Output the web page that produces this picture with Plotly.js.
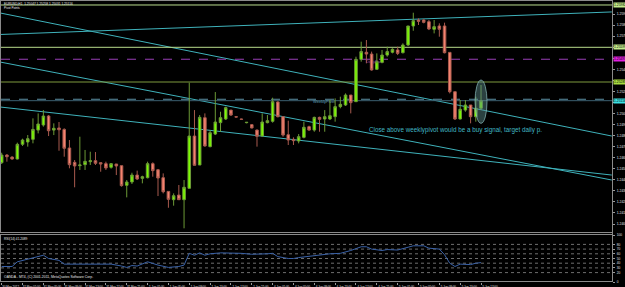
<!DOCTYPE html>
<html><head><meta charset="utf-8">
<script src="https://cdn.plot.ly/plotly-3.0.1.min.js"></script>
<style>html,body{margin:0;padding:0;background:#000;}#chart{width:625px;height:287px;}</style>
</head><body><div id="chart"></div>
<script>
// ---------- DATA ----------
const symbolTitle = "EURUSD,H1";
const barIndex = Array.from({length: 93}, (_, i) => i);
const open = [1.24555,1.24624,1.24606,1.24588,1.24721,1.24742,1.24766,1.24850,1.24896,1.24977,
1.24850,1.24869,1.24856,1.24688,1.24558,1.24528,1.24537,1.24564,1.24573,1.24555,
1.24546,1.24513,1.24543,1.24528,1.24350,1.24380,1.24443,1.24413,1.24419,1.24546,
1.24491,1.24419,1.24295,1.24220,1.24262,1.24220,1.24323,1.24796,1.24534,1.24962,
1.24700,1.24814,1.24917,1.24950,1.25031,1.24971,1.24950,1.24917,1.24899,1.24850,
1.24796,1.24917,1.24929,1.25104,1.24971,1.24808,1.24766,1.24751,1.24784,1.24881,
1.24850,1.24965,1.24950,1.24950,1.24971,1.25062,1.25077,1.25167,1.25107,1.25490,
1.25554,1.25538,1.25400,1.25463,1.25529,1.25554,1.25575,1.25550,1.25620,1.25792,
1.25846,1.25846,1.25831,1.25762,1.25792,1.25792,1.25553,1.25197,1.24950,1.25031,
1.25077,1.24971,1.25047];
const high = [1.24645,1.24633,1.24612,1.24736,1.24772,1.24805,1.24956,1.25001,1.25031,1.24986,
1.24911,1.24923,1.24866,1.24760,1.24579,1.24790,1.24670,1.24654,1.24651,1.24555,
1.24564,1.24552,1.24543,1.24528,1.24398,1.24464,1.24483,1.24437,1.24564,1.24558,
1.24498,1.24458,1.24295,1.24277,1.24353,1.24398,1.25279,1.25031,1.24986,1.25001,
1.24850,1.25194,1.25016,1.25062,1.25031,1.24975,1.24953,1.24920,1.24905,1.24856,
1.25001,1.24986,1.25143,1.25110,1.24977,1.24935,1.24784,1.24814,1.24926,1.24890,
1.24971,1.24971,1.25031,1.25122,1.25137,1.25152,1.25182,1.25167,1.25514,1.25650,
1.25665,1.25560,1.25544,1.25575,1.25605,1.25590,1.25605,1.25635,1.25792,1.25912,
1.25861,1.25852,1.25846,1.25846,1.25816,1.25822,1.25553,1.25197,1.25122,1.25122,
1.25077,1.25152,1.25258];
const low = [1.24543,1.24564,1.24582,1.24585,1.24706,1.24700,1.24730,1.24820,1.24881,1.24796,
1.24805,1.24663,1.24609,1.24504,1.24332,1.24489,1.24489,1.24534,1.24534,1.24473,
1.24489,1.24501,1.24443,1.24338,1.24241,1.24362,1.24398,1.24368,1.24413,1.24428,
1.24253,1.24277,1.24147,1.24166,1.24217,1.23961,1.24323,1.24531,1.24534,1.24700,
1.24694,1.24805,1.24835,1.24941,1.24977,1.24965,1.24944,1.24911,1.24866,1.24700,
1.24790,1.24911,1.24917,1.24965,1.24790,1.24715,1.24715,1.24730,1.24775,1.24844,
1.24835,1.24835,1.24835,1.24941,1.24926,1.25047,1.25068,1.25001,1.25107,1.25469,
1.25454,1.25388,1.25394,1.25454,1.25514,1.25544,1.25529,1.25544,1.25611,1.25749,
1.25801,1.25816,1.25755,1.25725,1.25695,1.25544,1.25182,1.24941,1.24947,1.25016,
1.24911,1.24926,1.25031];
const close = [1.24624,1.24609,1.24588,1.24721,1.24760,1.24772,1.24856,1.24905,1.24977,1.24844,
1.24866,1.24853,1.24685,1.24537,1.24525,1.24534,1.24567,1.24573,1.24549,1.24543,
1.24507,1.24546,1.24525,1.24347,1.24380,1.24443,1.24407,1.24428,1.24546,1.24483,
1.24416,1.24292,1.24223,1.24256,1.24220,1.24332,1.24796,1.24531,1.24965,1.24706,
1.24826,1.24923,1.24962,1.25053,1.24986,1.24968,1.24947,1.24920,1.24869,1.24793,
1.24923,1.24935,1.25107,1.24971,1.24805,1.24760,1.24754,1.24790,1.24875,1.24850,
1.24965,1.24947,1.24971,1.24980,1.25062,1.25083,1.25167,1.25098,1.25490,1.25560,
1.25538,1.25394,1.25469,1.25529,1.25560,1.25581,1.25544,1.25620,1.25792,1.25840,
1.25834,1.25825,1.25765,1.25786,1.25762,1.25550,1.25197,1.24950,1.25038,1.25077,
1.24971,1.25047,1.25116];

const timeTickBars = [0,4,8,12,16,20,24,28,32,36,40,44,48,52,56,60,64,68,72,76,80,84,88,92];
const timeTickLabels = ["30 May 2012","31 May 01:00","31 May 05:00","31 May 09:00","31 May 13:00",
"31 May 17:00","31 May 21:00","1 Jun 01:00","1 Jun 05:00","1 Jun 09:00","1 Jun 13:00","1 Jun 17:00",
"1 Jun 21:00","4 Jun 01:00","4 Jun 05:00","4 Jun 09:00","4 Jun 13:00","4 Jun 17:00","4 Jun 21:00",
"5 Jun 01:00","5 Jun 05:00","5 Jun 09:00","5 Jun 13:00","5 Jun 17:00"];
const priceTicks = [1.2400,1.2410,1.2420,1.2430,1.2440,1.2450,1.2460,1.2470,1.2480,1.2490,
1.2500,1.2510,1.2520,1.2530,1.2540,1.2550,1.2560,1.2570,1.2580,1.2590];

const rsiBar = [0,2,3,5,7,8,9,11,12,15,17,19,21,23,24,25,26,28,30,32,34,35,36,37,38,39,40,42,44,46,48,50,51,52,53,55,56,57,59,61,63,65,67,69,70,71,73,74,76,78,79,81,82,84,85,86,87,88,89,90,91,92];
const rsiValue = [33,33,43,48,54,57,50,46,38,38,38,38,38,34,31,35,34,43,36,31,33,36,61,57,62,57,60,62,62,61,59,59,60,61,54,50,50,52,55,57,60,61,67,75,75,70,67,69,68,74,77,77,72,70,58,40,33,38,38,37,40,41.2089];
const rsiLevels = [20,30,40,50,60,70,80];
const rsiTicks = [0,20,30,40,50,60,70,80,100];

// horizontal pivot levels
const levelNames = ["R2","R1","DailyPivot","S-level","WeeklyPivot"];
const levelPrices = [1.25982,1.25599,1.25491,1.25285,1.25129];
// trend lines: [bar, price] start and end
const trendBar0 = [-0.33,-0.33,-0.33,-0.33];
const trendPrice0 = [1.25910,1.25715,1.25059,1.25466];
const trendBar1 = [117.1,117.1,117.1,117.1];
const trendPrice1 = [1.24796,1.25919,1.24443,1.24398];
const noteText = "Close above weeklypivot would be a buy signal, target daily p.";

// ---------- STYLE / GEOMETRY ----------
const W = 625, H = 287;
const FONT = "Liberation Sans, Arial, sans-serif";
const fx = px => px / W, fy = py => 1 - py / H;
const BAR0 = 1.7, BARW = 5.21;             // px of bar 0, px per bar
const barAt = px => (px - BAR0) / BARW;
const PY0 = 224, PSTEP = 11.05;            // px of 1.2400 tick, px per 0.0010
const priceAt = py => 1.2400 + (PY0 - py) / PSTEP * 0.001;
const pxOf = p => PY0 - (p - 1.2400) / 0.001 * PSTEP;
const MAIN_TOP = 2, MAIN_BOT = 232, RSI_TOP = 235, RSI_BOT = 282, RIGHT = 612;
const yRange = [priceAt(MAIN_BOT), priceAt(MAIN_TOP)];
const xRange = [barAt(1), barAt(RIGHT)];
const levelColors = ["#b9dc8c","#b9dc8c","#9a3fb8","#7f9a3e","#5b8ea2"];
const levelDash = ["solid","solid","dash","solid","dash"];
const labelBg = ["#c4ec8c","#c4ec8c","#e020e0","#a8dc40"];
const trendColor = "#3fb2bb";
const fmt5 = v => v.toFixed(5);
const fmt4 = v => v.toFixed(4);
const last = close.length - 1;

// price-scale labels: hide those covered by the coloured level labels
const labelledPrices = levelPrices.slice(0, 4).concat([close[last]]);
const priceTickText = priceTicks.map(t =>
  labelledPrices.some(p => Math.abs(pxOf(p) - pxOf(t)) < 5) ? "" : fmt4(t));

const traces = [];
for (let i = 0; i < trendBar0.length; i++) {
  traces.push({type:'scatter', mode:'lines', x:[trendBar0[i], trendBar1[i]], y:[trendPrice0[i], trendPrice1[i]],
    xaxis:'x', yaxis:'y', line:{color:trendColor, width:1}, hoverinfo:'skip'});
}
levelPrices.forEach((p, i) => {
  traces.push({type:'scatter', mode:'lines', x:[xRange[0], xRange[1]], y:[p, p], xaxis:'x', yaxis:'y',
    line:{color:levelColors[i], width:1, dash:levelDash[i]}, hoverinfo:'skip'});
});
traces.push({type:'scatter', mode:'lines', x:[xRange[0], xRange[1]], y:[close[last], close[last]], xaxis:'x', yaxis:'y',
  line:{color:'#3b5f70', width:1}, hoverinfo:'skip'});
traces.push({type:'scatter', mode:'text', x:[barAt(313)], y:[levelPrices[4] - 0.00026], text:[levelNames[4]],
  textposition:'middle right', textfont:{family:FONT, size:4, color:'#5f9fb4'}, xaxis:'x', yaxis:'y', hoverinfo:'skip'});
traces.push({type:'scatter', mode:'text', x:[barAt(366)], y:[levelPrices[2] - 0.00025], text:[levelNames[2]],
  textposition:'middle right', textfont:{family:FONT, size:4, color:'#9a3fb8'}, xaxis:'x', yaxis:'y', hoverinfo:'skip'});
traces.push({type:'scatter', mode:'lines', x:rsiBar, y:rsiValue, xaxis:'x', yaxis:'y2',
  line:{color:'#3a62a8', width:1}, hoverinfo:'skip'});
traces.push({type:'candlestick', x:barIndex, open:open, high:high, low:low, close:close, xaxis:'x', yaxis:'y3',
  increasing:{line:{color:'#6c9a36', width:1}, fillcolor:'#7cfc00'},
  decreasing:{line:{color:'#a85a4e', width:1}, fillcolor:'#f5836f'},
  whiskerwidth:0, hoverinfo:'skip'});

const shapes = [];
const frame = (x0,y0,x1,y1,c) => shapes.push({type:'line', xref:'paper', yref:'paper', x0:fx(x0), y0:fy(y0), x1:fx(x1), y1:fy(y1), line:{color:c||'#8a8a8a', width:1}, layer:'above'});
frame(0, 0.5, RIGHT, 0.5);
frame(0.5, 0, 0.5, MAIN_BOT);
frame(0, MAIN_BOT + 0.5, RIGHT, MAIN_BOT + 0.5);
frame(0, RSI_TOP - 0.5, RIGHT, RSI_TOP - 0.5);
frame(0, RSI_BOT - 0.5, RIGHT, RSI_BOT - 0.5);
frame(RIGHT + 0.5, 0, RIGHT + 0.5, RSI_BOT);
frame(0.5, RSI_TOP, 0.5, RSI_BOT);
rsiLevels.forEach(v => shapes.push({type:'line', xref:'paper', yref:'y2', x0:fx(1), x1:fx(RIGHT), y0:v, y1:v,
  line:{color:'#6e6e6e', width:1, dash:'dot'}, layer:'below'}));
shapes.push({type:'circle', xref:'x', yref:'y', x0:last - 1.15, x1:last + 1.15,
  y0:low[last] - 0.0012, y1:high[last] + 0.00045,
  fillcolor:'rgba(95,145,145,0.45)', line:{color:'rgba(140,190,190,0.7)', width:1}, layer:'above'});

const annotations = [];
const txt = (px, py, text, size, color, extra) => annotations.push(Object.assign({xref:'paper', yref:'paper', x:fx(px), y:fy(py),
  text, showarrow:false, xanchor:'left', yanchor:'middle', font:{family:FONT, size, color}}, extra||{}));
txt(2, 3.5, symbolTitle + "  " + fmt5(open[last]) + " " + fmt5(high[last]) + " " + fmt5(low[last]) + " " + fmt5(close[last]), 3.2, '#e8e8e8');
txt(2, 7.8, "Pivot Points", 3.0, '#e8e8e8');
txt(2, 239, "RSI(14) " + rsiValue[rsiValue.length - 1].toFixed(4), 3.2, '#e8e8e8');
txt(2, 277, "OANDA - MT4, (C) 2001-2011, MetaQuotes Software Corp.", 3.4, '#e8e8e8');
txt(366.5, 129.5, noteText, 6.3, '#41b8c4');
levelPrices.slice(0, 4).forEach((p, i) => annotations.push({xref:'paper', yref:'y', x:fx(RIGHT + 1), y:p, text:fmt5(p),
  showarrow:false, xanchor:'left', yanchor:'middle', bgcolor:labelBg[i], borderpad:0,
  font:{family:FONT, size:3.4, color:'#000'}}));
annotations.push({xref:'paper', yref:'y', x:fx(RIGHT + 1), y:close[last], text:fmt5(close[last]),
  showarrow:false, xanchor:'left', yanchor:'middle', bgcolor:'#3ce0e4', borderpad:0,
  font:{family:FONT, size:3.4, color:'#000'}});

const layout = {
  width:W, height:H, paper_bgcolor:'#000', plot_bgcolor:'#000', showlegend:false,
  margin:{l:0, r:0, t:0, b:0},
  xaxis:{domain:[fx(1), fx(RIGHT)], range:xRange, anchor:'y2', rangeslider:{visible:false},
    tickmode:'array', tickvals:timeTickBars, ticktext:timeTickLabels, ticks:'outside', ticklen:2, tickcolor:'#9a9a9a',
    tickfont:{family:FONT, size:2.9, color:'#e0e0e0'}, ticklabelshift:9, ticklabelstandoff:0,
    showgrid:false, zeroline:false, showline:false, fixedrange:true},
  yaxis:{domain:[fy(MAIN_BOT), fy(MAIN_TOP)], range:yRange, side:'right', anchor:'x',
    tickmode:'array', tickvals:priceTicks, ticktext:priceTickText, ticks:'outside', ticklen:2, tickcolor:'#9a9a9a',
    tickfont:{family:FONT, size:3.4, color:'#e0e0e0'}, ticklabelstandoff:1,
    showgrid:false, zeroline:false, showline:false, fixedrange:true},
  yaxis3:{overlaying:'y', range:yRange, visible:false, fixedrange:true},
  yaxis2:{domain:[fy(RSI_BOT), fy(RSI_TOP)], range:[0,100], side:'right', anchor:'x',
    tickmode:'array', tickvals:rsiTicks, ticks:'outside', ticklen:2, tickcolor:'#9a9a9a',
    tickfont:{family:FONT, size:3.2, color:'#e0e0e0'}, ticklabelstandoff:1,
    showgrid:false, zeroline:false, showline:false, fixedrange:true},
  shapes, annotations
};
Plotly.newPlot('chart', traces, layout, {staticPlot:true, displayModeBar:false});
</script></body></html>
